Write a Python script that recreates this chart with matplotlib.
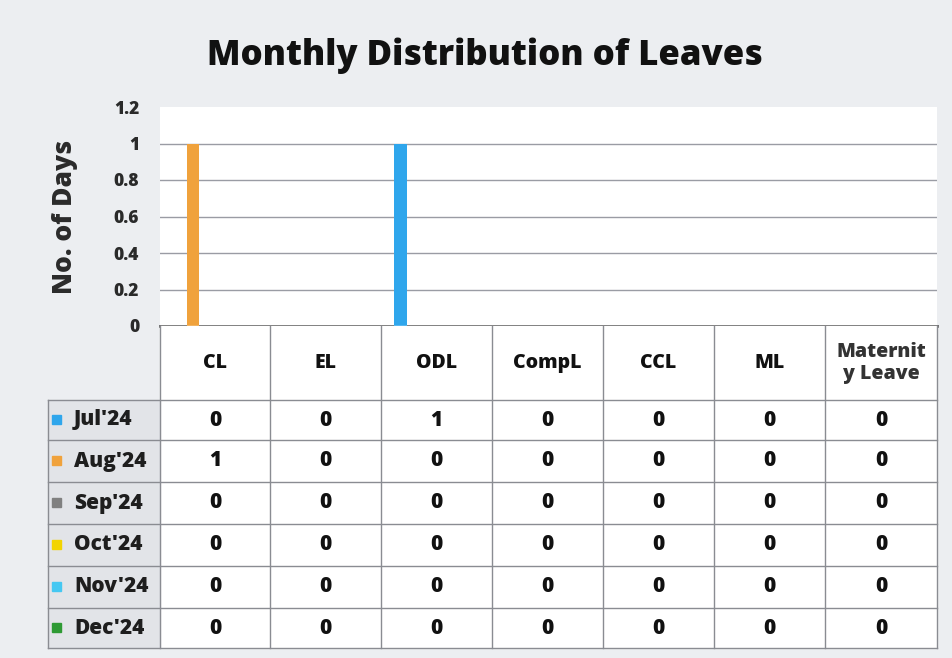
import numpy as np
import matplotlib.pyplot as plt

plt.rcParams['font.family'] = ['Open Sans', 'DejaVu Sans']

# leave categories and monthly counts
leave_types = ['CL', 'EL', 'ODL', 'CompL', 'CCL', 'ML', 'Maternit\ny Leave']
months = ["Jul'24", "Aug'24", "Sep'24", "Oct'24", "Nov'24", "Dec'24"]
jul = [0, 0, 1, 0, 0, 0, 0]
aug = [1, 0, 0, 0, 0, 0, 0]
sep = [0, 0, 0, 0, 0, 0, 0]
oct_ = [0, 0, 0, 0, 0, 0, 0]
nov = [0, 0, 0, 0, 0, 0, 0]
dec = [0, 0, 0, 0, 0, 0, 0]
series = [jul, aug, sep, oct_, nov, dec]
colors = ['#2fa6ec', '#f0a23c', '#808080', '#f2d400', '#45c8f2', '#2e9a34']

W, H = 953, 658
fig = plt.figure(figsize=(W / 100, H / 100), dpi=100, facecolor='#eceef1')

def px_axes(x0, y0, x1, y1):
    return fig.add_axes([x0 / W, 1 - y1 / H, (x1 - x0) / W, (y1 - y0) / H])

# bar area
ax = px_axes(160, 107, 937, 326)
ax.set_facecolor('white')
n = len(leave_types)
x = np.arange(n)
w = 0.133
for i, (vals, c) in enumerate(zip(series, colors)):
    ax.bar(x + 0.5 + (i - 2.5) * w, vals, width=0.11, color=c, zorder=3)
ax.set_xlim(0, n)
ax.set_ylim(0, 1.2)
yt = [0, 0.2, 0.4, 0.6, 0.8, 1, 1.2]
ax.set_yticks(yt)
ax.set_yticklabels(['0', '0.2', '0.4', '0.6', '0.8', '1', '1.2'],
                   fontsize=12.5, fontweight='heavy', color='#2a2a2a')
ax.tick_params(axis='y', length=0, pad=15)
ax.set_xticks([])
for v in yt[1:-1]:
    ax.axhline(v, color='#9a9ca4', lw=1, zorder=1)
for s in ['top', 'right', 'left']:
    ax.spines[s].set_visible(False)
ax.spines['bottom'].set_color('#555')
ax.spines['bottom'].set_linewidth(2)
ax.set_ylabel('No. of Days', fontsize=19, fontweight='heavy', color='#2a2a2a', labelpad=26)

fig.text(485 / W, 1 - 56 / H, 'Monthly Distribution of Leaves', ha='center', va='center',
         fontsize=25, fontweight='heavy', color='#111')

# data table under the bars
tab = px_axes(0, 0, W, H)
tab.set_xlim(0, W)
tab.set_ylim(H, 0)
tab.axis('off')
tab.patch.set_alpha(0)

col_edges = [160, 270, 381, 492, 603, 714, 825, 937]
row_edges = [326, 400, 440, 482, 524, 566, 608, 648]
label_left = 48
line_c = '#8a8c92'

tab.add_patch(plt.Rectangle((160, 326), 937 - 160, 648 - 326, color='white', zorder=0))
tab.add_patch(plt.Rectangle((label_left, 400), 160 - label_left, 648 - 400,
                            color='#e2e4e8', zorder=0))
for xe in col_edges:
    tab.plot([xe, xe], [326, 648], color=line_c, lw=1)
tab.plot([label_left, label_left], [400, 648], color=line_c, lw=1)
for ye in row_edges[1:]:
    tab.plot([label_left, 937], [ye, ye], color=line_c, lw=1)

for j, name in enumerate(leave_types):
    cx = (col_edges[j] + col_edges[j + 1]) / 2
    two_line = '\n' in name
    tab.text(cx, (row_edges[0] + row_edges[1]) / 2, name, ha='center', va='center',
             fontsize=14, fontweight='heavy',
             color='#333' if two_line else '#111', linespacing=1.15)

for i, (m, vals, c) in enumerate(zip(months, series, colors)):
    cy = (row_edges[i + 1] + row_edges[i + 2]) / 2
    tab.add_patch(plt.Rectangle((52, cy - 5), 9, 9, color=c))
    tab.text(74, cy, m, ha='left', va='center', fontsize=15, fontweight='heavy', color='#1e1e1e')
    for j, v in enumerate(vals):
        cx = (col_edges[j] + col_edges[j + 1]) / 2
        tab.text(cx, cy, str(v), ha='center', va='center', fontsize=15,
                 fontweight='heavy', color='#111')

fig.savefig('out.png', dpi=100, facecolor=fig.get_facecolor())
